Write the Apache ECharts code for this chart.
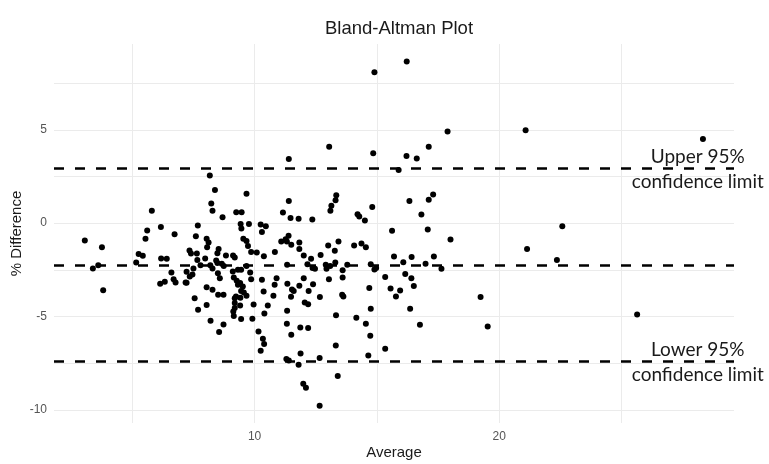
<!DOCTYPE html>
<html>
<head>
<meta charset="utf-8">
<script src="https://cdn.jsdelivr.net/npm/echarts@6/dist/echarts.min.js"></script>
<style>
  html, body { margin: 0; padding: 0; background: #ffffff; }
  #chart { width: 769px; height: 464px; }
</style>
</head>
<body>
<div id="chart"></div>
<script>
// Mean of the two measurements for each subject
const average = [
  3.06, 3.39, 3.61, 3.76, 3.81, 5.80, 5.61, 5.54, 6.17, 6.73, 5.26, 5.43, 5.16, 6.18, 6.41, 6.60, 6.69, 6.77, 6.14, 6.33, 7.18,
  8.17, 8.38, 9.67, 8.23, 8.28, 8.69, 9.25, 9.47, 7.68, 9.43, 9.46, 9.77, 10.25, 10.46, 10.30, 7.60, 8.04, 8.12, 8.06, 9.54,
  9.67, 9.73, 9.86, 10.09, 10.38, 7.34, 7.40, 7.64, 8.53, 8.48, 8.83, 9.12, 9.19, 7.66, 7.98, 8.43, 8.48, 7.79, 8.19, 8.28,
  8.66, 8.74, 7.50, 7.35, 7.46, 8.50, 8.58, 9.11, 9.15, 9.32, 9.45, 9.67, 9.82, 7.22, 8.04, 8.28, 8.51, 8.73, 9.27, 9.32,
  9.41, 9.52, 9.45, 9.56, 9.19, 9.24, 9.42, 9.67, 9.86, 10.30, 10.37, 10.77, 7.55, 7.69, 8.04, 9.19, 9.19, 9.41, 9.96, 10.54,
  9.13, 9.15, 9.45, 9.91, 10.40, 8.20, 8.73, 8.55, 10.16, 10.34, 10.39, 10.25, 10.90, 10.82, 7.22,
  11.40, 13.05, 14.85, 11.40, 11.16, 11.47, 11.80, 12.36, 13.34, 13.31, 13.14, 13.10, 14.21, 14.28, 14.51, 14.81, 13.43,
  13.01, 13.28, 14.07, 14.37, 14.55, 11.09, 11.27, 11.39, 11.50, 11.32, 11.83, 11.83, 12.01, 12.31, 12.70, 10.83,
  11.33, 12.16, 12.37, 12.47, 12.91, 12.94, 13.09, 13.30, 13.60, 13.79, 14.75, 14.90, 14.97, 12.01, 11.34, 11.53, 11.60,
  11.83, 12.39, 12.21, 11.49, 12.05, 12.19, 12.67, 13.04, 13.60, 13.58, 13.63, 14.69, 11.33, 13.33, 14.16, 14.75, 14.55,
  11.32, 11.50, 11.87, 12.19, 14.73, 13.32, 11.88, 11.30, 11.40, 11.80, 12.66, 14.65, 13.40, 11.99, 12.10, 12.66,
  16.22, 14.90, 17.89, 16.21, 16.63, 17.12, 15.89, 17.30, 17.12, 16.33, 16.82, 15.62, 17.08, 18.01, 15.70, 16.42, 17.33,
  16.08, 16.99, 17.64, 15.34, 16.16, 16.41, 16.51, 15.56, 15.95, 15.78, 16.36, 16.76, 15.34, 19.24,
  21.08, 28.33, 22.58, 21.14, 22.36, 19.53, 25.64
];

// Percentage difference between the two measurements
const pctDifference = [
  -0.93, -2.43, -2.25, -1.29, -3.59, 0.67, -0.40, -0.84, -0.21, -0.59, -1.66, -1.75, -2.11, -1.90, -1.91, -2.65, -3.00, -3.18, -3.25, -3.14, -3.18,
  2.55, 1.77, 1.57, 1.05, 0.67, 0.32, 0.59, 0.59, -0.13, -0.05, -0.29, -0.05, -0.07, -0.16, -0.47, -0.70, -0.84, -1.04, -1.29, -0.84,
  -0.96, -1.22, -1.55, -1.57, -1.77, -1.47, -1.63, -1.63, -1.38, -1.61, -1.74, -1.74, -1.84, -1.97, -1.90, -2.00, -2.14, -2.25, -2.25, -2.43,
  -2.18, -2.29, -2.43, -2.86, -2.75, -2.68, -2.95, -2.59, -2.91, -2.50, -2.50, -2.29, -2.65, -3.20, -3.43, -3.57, -3.84, -3.84, -3.09, -3.30,
  -3.21, -3.40, -3.63, -3.72, -4.02, -3.93, -4.00, -3.89, -3.00, -3.04, -3.66, -3.89, -4.02, -4.64, -4.38, -4.28, -4.55, -4.41, -4.36, -4.41,
  -4.73, -4.97, -5.14, -5.13, -4.84, -5.23, -5.43, -5.84, -5.81, -6.20, -6.48, -6.84, -2.95, -3.30, -2.60,
  3.44, 4.10, 3.75, 1.19, 0.57, 0.27, 0.23, 0.19, 1.50, 1.23, 0.93, 0.67, 0.48, 0.35, 0.14, 0.86, -0.99,
  -1.20, -1.48, -1.20, -1.09, -1.29, -0.99, -0.86, -0.68, -1.16, -0.99, -1.04, -1.38, -1.74, -1.91, -1.71, -1.55,
  -2.23, -2.20, -2.41, -2.45, -2.23, -2.45, -2.29, -2.11, -2.52, -2.23, -2.20, -2.49, -2.41, -2.95, -3.25, -3.56, -3.63,
  -3.36, -3.27, -3.63, -3.95, -4.25, -4.34, -3.96, -3.00, -2.91, -3.84, -3.93, -3.48, -4.70, -4.93, -5.07, -4.59, -5.39,
  -5.39, -5.98, -5.59, -5.62, -6.04, -6.56, -6.98, -7.28, -7.36, -7.59, -7.23, -7.09, -8.19, -8.61, -8.82, -9.79,
  8.66, 8.09, 4.91, 3.60, 3.46, 4.09, 2.85, 1.53, 1.25, 1.18, 0.46, -0.41, -0.34, -0.88, -1.79, -1.82, -1.79,
  -2.09, -2.18, -2.45, -2.88, -2.72, -2.95, -3.37, -3.50, -3.61, -3.93, -4.59, -5.45, -6.73, -3.96,
  4.98, 4.51, -0.16, -1.38, -1.98, -5.54, -4.89
];

// Mean difference and 95% limits of agreement
const meanDifference = -2.23;
const upperLimit = 2.95;
const lowerLimit = -7.41;

// Axis labels and grid positions
const xTickLabels = [10, 20];
const xGridValues = [5, 10, 15, 20, 25];
const yTickLabels = [-10, -5, 0, 5];
const yGridValues = [-10, -7.5, -5, -2.5, 0, 2.5, 5, 7.5];

const upperText = 'Upper 95%\nconfidence limit';
const lowerText = 'Lower 95%\nconfidence limit';
const limitLabelX = 28.12;

const points = average.map((a, i) => [a, pctDifference[i]]);

const gridLine = { show: true, lineStyle: { color: '#ebebeb', width: 1 } };
const tickText = { color: '#555555', fontSize: 12, fontFamily: 'Liberation Sans, Arial, sans-serif' };
const limitLabel = {
  show: true,
  position: 'inside',
  offset: [0, 1],
  align: 'center',
  verticalAlign: 'middle',
  lineHeight: 25,
  fontFamily: 'Lato, sans-serif',
  fontSize: 19,
  color: '#1a1a1a',
  formatter: p => p.name
};

const chart = echarts.init(document.getElementById('chart'), null, { renderer: 'canvas' });

chart.setOption({
  animation: false,
  backgroundColor: '#ffffff',
  title: {
    text: 'Bland-Altman Plot',
    left: 394,
    top: 14,
    textAlign: 'center',
    textStyle: { fontFamily: 'Liberation Sans, Arial, sans-serif', fontSize: 18.5, fontWeight: 'normal', color: '#1a1a1a' }
  },
  grid: { left: 54, right: 35, top: 44, bottom: 41, containLabel: false, outerBoundsMode: 'none' },
  xAxis: {
    type: 'value',
    min: 1.8,
    max: 29.6,
    name: 'Average',
    nameLocation: 'middle',
    nameGap: 22,
    nameMoveOverlap: false,
    nameTextStyle: { fontFamily: 'Liberation Sans, Arial, sans-serif', fontSize: 15, color: '#1a1a1a' },
    axisLine: { show: false },
    axisTick: { show: false, customValues: xGridValues },
    axisLabel: Object.assign({ customValues: xTickLabels, margin: 8 }, tickText),
    splitLine: gridLine
  },
  yAxis: {
    type: 'value',
    min: -10.71,
    max: 9.6,
    name: '% Difference',
    nameLocation: 'middle',
    nameGap: 30,
    nameMoveOverlap: false,
    nameTextStyle: { fontFamily: 'Liberation Sans, Arial, sans-serif', fontSize: 15, color: '#1a1a1a' },
    axisLine: { show: false },
    axisTick: { show: false, customValues: yGridValues },
    axisLabel: Object.assign({ customValues: yTickLabels, margin: 7 }, tickText),
    splitLine: gridLine
  },
  series: [
    {
      type: 'scatter',
      data: points,
      symbolSize: 6,
      itemStyle: { color: '#000000', opacity: 1 },
      silent: true,
      markLine: {
        silent: true,
        symbol: ['none', 'none'],
        label: { show: false },
        lineStyle: { color: '#000000', width: 2.7, type: [10, 11], opacity: 1 },
        data: [
          { yAxis: upperLimit },
          { yAxis: meanDifference },
          { yAxis: lowerLimit }
        ]
      },
      markPoint: {
        silent: true,
        symbol: 'circle',
        symbolSize: 0,
        itemStyle: { color: 'transparent' },
        label: limitLabel,
        data: [
          { name: upperText, coord: [limitLabelX, upperLimit] },
          { name: lowerText, coord: [limitLabelX, lowerLimit] }
        ]
      }
    }
  ]
});
</script>
</body>
</html>
